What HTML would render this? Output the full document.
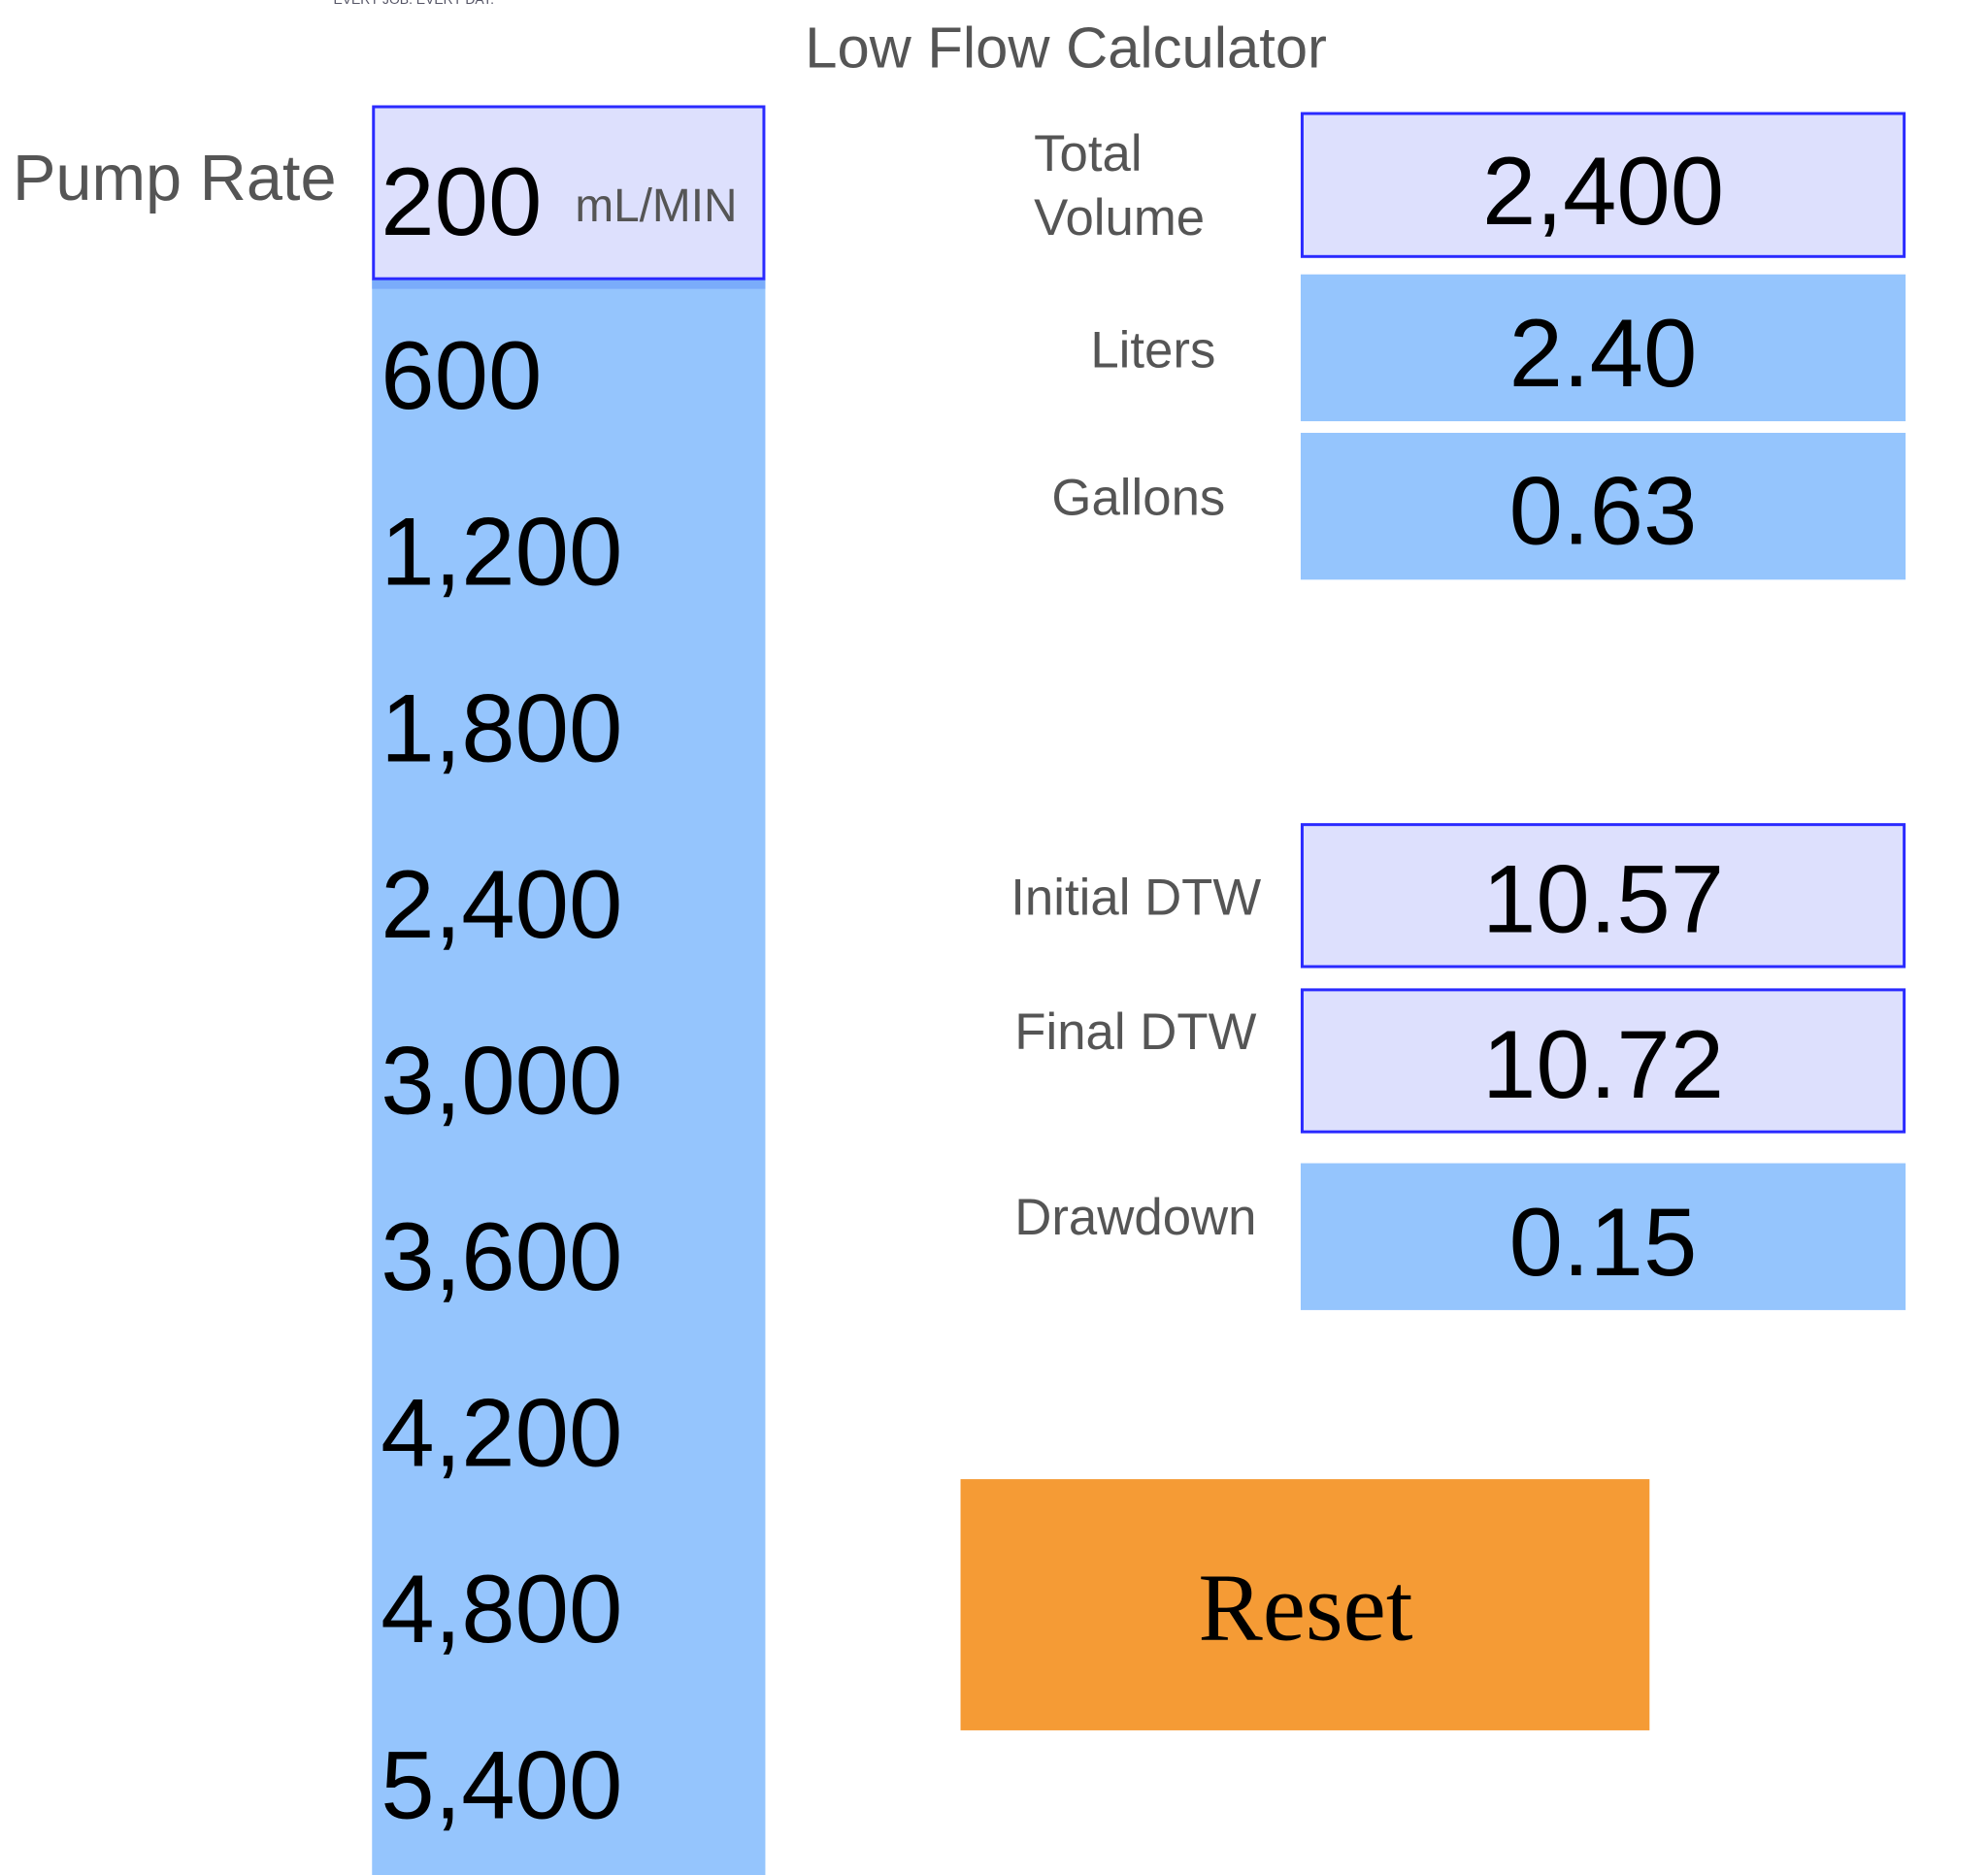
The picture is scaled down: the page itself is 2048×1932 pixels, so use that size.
<!DOCTYPE html>
<html><head><meta charset="utf-8"><style>
html,body{margin:0;padding:0;background:#fff;}
svg{display:block;}
text{font-family:"Liberation Sans",sans-serif;}
</style></head><body>
<svg width="2048" height="1932" viewBox="0 0 2048 1932">
<g transform="scale(0.9955)">
<text x="345" y="4" font-size="14" fill="#556">EVERY JOB. EVERY DAY.</text>
<text x="833" y="70" font-size="60" fill="#555">Low Flow Calculator</text>
<text x="13" y="207" font-size="67" fill="#555">Pump Rate</text>
<rect x="385" y="289" width="407" height="1660" fill="#95c5fd"/>
<rect x="385" y="289" width="407" height="10" fill="#7aacfa"/>
<rect x="386.5" y="110.5" width="404" height="178" fill="#dde0fd" stroke="#2a2aff" stroke-width="3"/>
<text x="394" y="243" font-size="100" fill="#000">200</text>
<text x="595" y="229" font-size="48" fill="#555">mL/MIN</text>
<g id="rows"></g>

<text x="1070" y="177" font-size="53" fill="#555">Total</text>
<text x="1070" y="243" font-size="53" fill="#555">Volume</text>
<rect x="1347.5" y="117.5" width="623" height="148" fill="#dde0fd" stroke="#2a2aff" stroke-width="3"/>
<text x="1659" y="232" font-size="100" text-anchor="middle">2,400</text>

<text x="1258" y="380" font-size="53" fill="#555" text-anchor="end">Liters</text>
<rect x="1346" y="284" width="626" height="152" fill="#95c5fd"/>
<text x="1659" y="400" font-size="100" text-anchor="middle">2.40</text>

<text x="1268" y="533" font-size="53" fill="#555" text-anchor="end">Gallons</text>
<rect x="1346" y="448" width="626" height="152" fill="#95c5fd"/>
<text x="1659" y="563" font-size="100" text-anchor="middle">0.63</text>

<text x="1046" y="947" font-size="53" fill="#555">Initial DTW</text>
<rect x="1347.5" y="853.5" width="623" height="147" fill="#dde0fd" stroke="#2a2aff" stroke-width="3"/>
<text x="1659" y="965" font-size="100" text-anchor="middle">10.57</text>

<text x="1050" y="1086" font-size="53" fill="#555">Final DTW</text>
<rect x="1347.5" y="1024.5" width="623" height="147" fill="#dde0fd" stroke="#2a2aff" stroke-width="3"/>
<text x="1659" y="1136" font-size="100" text-anchor="middle">10.72</text>

<text x="1050" y="1278" font-size="53" fill="#555">Drawdown</text>
<rect x="1346" y="1204" width="626" height="152" fill="#95c5fd"/>
<text x="1659" y="1320" font-size="100" text-anchor="middle">0.15</text>

<rect x="994" y="1531" width="713" height="260" fill="#f59b35"/>
<text x="1351" y="1697" font-size="100" text-anchor="middle" style="font-family:'Liberation Serif',serif">Reset</text>
</g>
</svg>
<script>
const rateOptions = ["600","1,200","1,800","2,400","3,000","3,600","4,200","4,800","5,400"];
const g = document.getElementById('rows');
rateOptions.forEach((v,i)=>{
  const t = document.createElementNS('http://www.w3.org/2000/svg','text');
  t.setAttribute('x', 394);
  t.setAttribute('y', 423 + i*182.4);
  t.setAttribute('font-size', 100);
  t.textContent = v;
  
  
  g.appendChild(t);
});
</script>
</body></html>
